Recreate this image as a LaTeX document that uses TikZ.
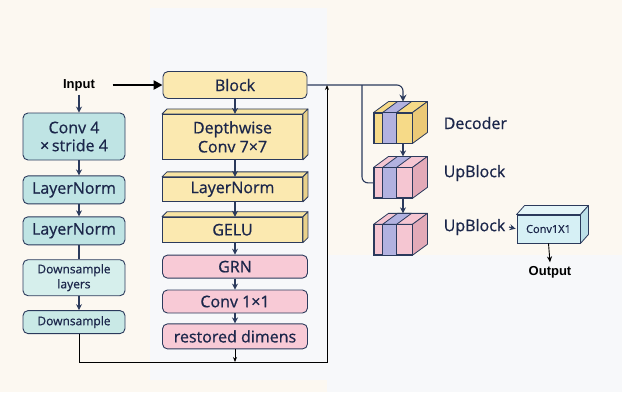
\documentclass[tikz,border=0pt]{standalone}
\usepackage{fontspec}
\setmainfont{Open Sans}[FakeBold=0.7]
\newfontfamily\labelfont{Liberation Sans}
\usepackage{xcolor}
\usetikzlibrary{positioning,arrows.meta}

\definecolor{ink}{HTML}{1B264A}
\definecolor{edge}{HTML}{2B3A5C}
\definecolor{tealbox}{HTML}{BFE4E4}
\definecolor{tealpale}{HTML}{D6EFEC}
\definecolor{tealmid}{HTML}{C9E9E6}
\definecolor{sand}{HTML}{FBE9B0}
\definecolor{sandtop}{HTML}{F8E4A2}
\definecolor{sandside}{HTML}{E9D18A}
\definecolor{rose}{HTML}{F8CAD6}
\definecolor{sunny}{HTML}{F6DA88}
\definecolor{sunnyside}{HTML}{EBC977}
\definecolor{blush}{HTML}{F5C6D2}
\definecolor{blushside}{HTML}{E3AAB8}
\definecolor{lav}{HTML}{B2B2E0}
\definecolor{ice}{HTML}{D6F0F5}
\definecolor{icetop}{HTML}{E4F5F8}
\definecolor{iceside}{HTML}{BCE0E9}
\definecolor{cream}{HTML}{FCF8F1}
\definecolor{mist}{HTML}{F7F8FA}

% top and side faces of a box
\newcommand{\extrude}[4]{%
  \filldraw[draw=edge, fill=#3, line join=round] (#1.north west) -- ([shift={(#2)}]#1.north west) -- ([shift={(#2)}]#1.north east) -- (#1.north east) -- cycle;
  \filldraw[draw=edge, fill=#4, line join=round] (#1.north east) -- ([shift={(#2)}]#1.north east) -- ([shift={(#2)}]#1.south east) -- (#1.south east) -- cycle;
}
% decoder cube with a lavender band
\newcommand{\stripecube}[3]{%
  \fill[lav] ([xshift=9pt]#1.south west) rectangle ([xshift=23pt]#1.north west);
  \draw[edge] ([xshift=9pt]#1.south west) -- ([xshift=9pt]#1.north west)
              ([xshift=23pt]#1.south west) -- ([xshift=23pt]#1.north west);
  \filldraw[draw=edge, fill=#2, line join=round] (#1.north west) -- ([shift={(15,11)}]#1.north west) -- ([shift={(15,11)}]#1.north east) -- (#1.north east) -- cycle;
  \filldraw[draw=edge, fill=lav, line join=round] ([xshift=9pt]#1.north west) -- ([shift={(24,11)}]#1.north west) -- ([shift={(38,11)}]#1.north west) -- ([xshift=23pt]#1.north west) -- cycle;
  \filldraw[draw=edge, fill=#3, line join=round] (#1.north east) -- ([shift={(15,11)}]#1.north east) -- ([shift={(15,11)}]#1.south east) -- (#1.south east) -- cycle;
  \draw[edge, line width=0.9pt] (#1.south west) rectangle (#1.north east);
}

\begin{document}
\begin{tikzpicture}[x=1pt, y=1pt, thick]
    % Styles
    \tikzstyle{stem} = [draw=edge, fill=tealbox, rounded corners=5pt, line width=0.9pt, minimum width=102pt, align=center, text=ink, inner sep=1pt, font=\fontsize{16}{18}\selectfont]
    \tikzstyle{blockbox} = [draw=edge, fill=sand, rounded corners=5pt, line width=0.9pt, minimum width=144pt, minimum height=27pt, text=ink, font=\fontsize{16}{18}\selectfont]
    \tikzstyle{slab} = [draw=edge, fill=sand, line width=0.9pt, minimum width=140pt, align=center, text=ink, inner sep=1pt, font=\fontsize{16}{19}\selectfont]
    \tikzstyle{tag} = [draw=edge, fill=rose, rounded corners=5pt, line width=0.9pt, minimum width=145pt, minimum height=23pt, inner sep=1pt, text=ink, font=\fontsize{16}{18}\selectfont]
    \tikzstyle{cubeface} = [draw=edge, line width=0.9pt, minimum width=38pt, minimum height=30pt, inner sep=0pt]
    \tikzstyle{caption} = [text=ink, anchor=west, font=\fontsize{16}{18}\selectfont]
    \tikzstyle{plain} = [font=\labelfont\bfseries\fontsize{13}{15}\selectfont]
    \tikzstyle{flow} = [draw=edge, line width=1.1pt, -{Stealth[length=6pt,width=6pt]}]
    \tikzstyle{feed} = [draw=edge, line width=1.1pt, rounded corners=6pt]
    \tikzstyle{skip} = [draw=black, line width=0.9pt]

    \useasboundingbox (0,0) rectangle (622,-392);
    \fill[cream] (0,0) rectangle (622,-392);
    \fill[mist] (150,-8) rectangle (327,-380);
    \fill[mist] (327,-255) rectangle (622,-392);

    % Stem
    \node [plain] (input) at (79,-85) {Input};
    \node [stem, minimum height=47pt] (conv) at (74,-136.5) {Conv 4\\×\,stride 4};
    \node [stem, minimum height=28pt, below=15pt of conv] (norma) {LayerNorm};
    \node [stem, minimum height=28pt, below=12pt of norma] (normb) {LayerNorm};
    \node [stem, fill=tealpale, minimum height=36pt, font=\fontsize{12}{15}\selectfont, below=14pt of normb] (dsl) {Downsample\\layers};
    \node [stem, fill=tealmid, minimum height=23pt, font=\fontsize{12}{14}\selectfont, below=14pt of dsl] (ds) {Downsample};

    % Block
    \node [blockbox] (block) at (235,-85) {Block};
    \node [slab, minimum height=45pt, below=15pt of block, xshift=-2.5pt] (dw) {Depthwise\\Conv 7×7};
    \node [slab, minimum height=24pt, below=17pt of dw] (normc) {LayerNorm};
    \node [slab, minimum height=25pt, below=15pt of normc] (gelu) {GELU};
    \node [tag, below=12pt of gelu, xshift=2.5pt] (grn) {GRN};
    \node [tag, below=11pt of grn] (pw) {Conv 1×1};
    \node [tag, minimum height=25pt, below=10pt of pw] (restore) {restored dimens};
    \extrude{dw}{5,5}{sandtop}{sandside}
    \extrude{normc}{5,5}{sandtop}{sandside}
    \extrude{gelu}{5,5}{sandtop}{sandside}

    % Decoder
    \node [cubeface, fill=sunny] (dec) at (393,-128) {};
    \node [cubeface, fill=blush, below=24pt of dec] (upa) {};
    \node [cubeface, fill=blush, below=26pt of upa] (upb) {};
    \stripecube{dec}{sunny}{sunnyside}
    \stripecube{upa}{blush}{blushside}
    \stripecube{upb}{blush}{blushside}
    \node [caption] (declbl) at (440,-123) {Decoder};
    \node [caption] (upalbl) at (440,-173) {UpBlock};
    \node [caption] (upblbl) at (440,-227) {UpBlock};
    \node [slab, fill=ice, minimum width=63pt, minimum height=28pt, font=\fontsize{11}{13}\selectfont] (head) at (548.5,-229) {Conv1X1};
    \extrude{head}{8,9}{icetop}{iceside}
    \node [plain] (output) at (550,-272) {Output};

    % Connections
    \draw [line width=2.4pt, -{Triangle[length=9pt,width=9pt]}] ([xshift=14pt]input.east) -- (block.west);
    \draw [flow] (input.south) -- (input.south |- conv.north);
    \draw [flow] (conv.south -| input) -- (norma.north -| input);
    \draw [flow] (norma.south -| input) -- (normb.north -| input);
    \draw [draw=edge, line width=1.1pt] (normb.south -| input) -- (dsl.north -| input);
    \draw [flow] (dsl.south -| input) -- (ds.north -| input);

    \draw [flow] (block.south) -- (block.south |- dw.north);
    \draw [flow] (dw.south -| block) -- (normc.north -| block);
    \draw [flow] (normc.south -| block) -- (gelu.north -| block);
    \draw [flow] (gelu.south -| block) -- (grn.north -| block);
    \draw [flow] (grn.south -| block) -- (pw.north -| block);
    \draw [flow] (pw.south -| block) -- (restore.north -| block);

    \coordinate (floor) at (327,-362);
    \coordinate (fork) at (362,-85);
    \draw [skip, -{Stealth[length=5pt,width=4pt]}] (ds.south -| input) |- (floor) -- (floor |- block.east);
    \draw [skip, -{Stealth[length=5pt,width=4pt]}] (restore.south -| block) -- (floor -| block);

    \coordinate (dectop) at ([shift={(10,11)}]dec.north);
    \draw [feed, -{Stealth[length=7pt,width=7pt]}] (block.east) -| (dectop);
    \draw [feed] (fork) |- (upa.west);
    \draw [flow] ([xshift=10pt]dec.south) -- ([shift={(10,11)}]upa.north);
    \draw [flow] ([xshift=10pt]upa.south) -- ([shift={(10,11)}]upb.north);
    \draw [flow, shorten >=1pt] (upblbl.east) -- (head.west);
    \draw [skip, -{Stealth[length=6pt,width=5pt]}] (head.south) -- (output.north);
\end{tikzpicture}
\end{document}
